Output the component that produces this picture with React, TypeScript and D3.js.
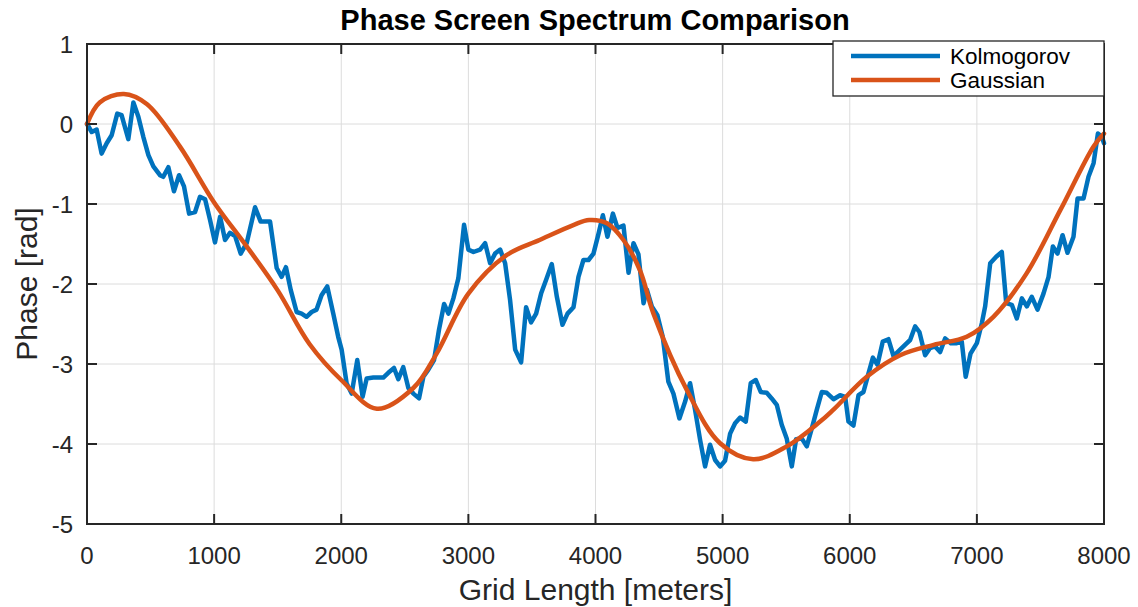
import React from "react";
import * as d3 from "d3";

const kolmogorovX = [0, 37, 76, 115, 155, 194, 238, 272, 325, 365, 404, 443, 483, 522, 574, 600, 640, 684, 724, 763, 803, 850, 889, 929, 968, 1007, 1047, 1086, 1125, 1165, 1209, 1256, 1322, 1366, 1440, 1492, 1531, 1565, 1602, 1649, 1688, 1727, 1767, 1806, 1845, 1890, 1937, 1976, 2003, 2042, 2082, 2126, 2168, 2200, 2252, 2331, 2370, 2415, 2449, 2488, 2528, 2567, 2612, 2646, 2685, 2730, 2769, 2809, 2843, 2882, 2921, 2966, 3000, 3040, 3092, 3132, 3171, 3210, 3250, 3289, 3328, 3368, 3415, 3454, 3493, 3533, 3572, 3611, 3656, 3696, 3740, 3780, 3827, 3866, 3905, 3945, 3984, 4024, 4058, 4094, 4137, 4173, 4220, 4260, 4299, 4338, 4378, 4404, 4443, 4487, 4529, 4573, 4613, 4660, 4705, 4744, 4783, 4823, 4862, 4901, 4941, 4980, 5019, 5059, 5098, 5138, 5182, 5221, 5261, 5300, 5347, 5386, 5426, 5465, 5504, 5544, 5578, 5622, 5662, 5709, 5741, 5780, 5819, 5872, 5924, 5964, 5990, 6029, 6069, 6108, 6147, 6182, 6218, 6260, 6304, 6344, 6396, 6435, 6475, 6514, 6548, 6593, 6632, 6672, 6711, 6750, 6795, 6842, 6881, 6912, 6950, 7000, 7039, 7065, 7105, 7152, 7196, 7231, 7275, 7314, 7354, 7393, 7432, 7477, 7524, 7564, 7598, 7634, 7674, 7713, 7760, 7792, 7839, 7878, 7918, 7952, 7983, 8000];
const kolmogorovY = [0, -0.1, -0.07, -0.37, -0.24, -0.14, 0.13, 0.11, -0.19, 0.27, 0.09, -0.16, -0.39, -0.53, -0.64, -0.66, -0.54, -0.84, -0.64, -0.78, -1.12, -1.1, -0.91, -0.94, -1.2, -1.48, -1.16, -1.45, -1.36, -1.4, -1.62, -1.49, -1.04, -1.22, -1.22, -1.8, -1.91, -1.79, -2.07, -2.35, -2.37, -2.41, -2.35, -2.32, -2.14, -2.03, -2.37, -2.66, -2.82, -3.24, -3.37, -2.95, -3.41, -3.18, -3.17, -3.17, -3.11, -3.05, -3.19, -3.04, -3.3, -3.37, -3.43, -3.16, -3.07, -2.95, -2.57, -2.25, -2.37, -2.18, -1.93, -1.26, -1.57, -1.6, -1.57, -1.49, -1.74, -1.62, -1.57, -1.74, -2.2, -2.82, -2.98, -2.29, -2.48, -2.37, -2.12, -1.95, -1.75, -2.16, -2.51, -2.37, -2.29, -1.91, -1.7, -1.7, -1.62, -1.37, -1.14, -1.41, -1.12, -1.3, -1.27, -1.86, -1.49, -1.63, -2.24, -2.07, -2.28, -2.39, -2.66, -3.22, -3.37, -3.68, -3.47, -3.24, -3.57, -3.95, -4.28, -4.01, -4.2, -4.28, -4.21, -3.87, -3.74, -3.67, -3.72, -3.24, -3.2, -3.35, -3.36, -3.43, -3.51, -3.76, -3.93, -4.28, -3.94, -3.93, -4.03, -3.76, -3.57, -3.35, -3.36, -3.44, -3.39, -3.41, -3.72, -3.77, -3.39, -3.35, -3.12, -2.92, -3.01, -2.72, -2.69, -2.9, -2.82, -2.76, -2.7, -2.53, -2.6, -2.89, -2.8, -2.78, -2.85, -2.68, -2.74, -2.74, -2.72, -3.16, -2.87, -2.74, -2.49, -2.28, -1.74, -1.66, -1.6, -2.24, -2.26, -2.43, -2.18, -2.28, -2.16, -2.32, -2.12, -1.91, -1.53, -1.62, -1.39, -1.61, -1.41, -0.93, -0.93, -0.66, -0.49, -0.12, -0.16, -0.24];

const gaussianX = [0, 100, 290, 470, 730, 1000, 1256, 1500, 1750, 2000, 2280, 2567, 2750, 3000, 3300, 3560, 3830, 3950, 4090, 4220, 4350, 4456, 4720, 4980, 5240, 5505, 5767, 5872, 6134, 6396, 6660, 6920, 7130, 7390, 7655, 7918, 8000];
const gaussianY = [0, 0.27, 0.375, 0.25, -0.28, -0.98, -1.53, -2.08, -2.75, -3.2, -3.56, -3.3, -2.87, -2.12, -1.64, -1.45, -1.26, -1.2, -1.24, -1.45, -1.83, -2.37, -3.33, -3.99, -4.19, -4.03, -3.72, -3.57, -3.16, -2.89, -2.76, -2.66, -2.41, -1.87, -1.08, -0.28, -0.12];

const xTicks = [0, 1000, 2000, 3000, 4000, 5000, 6000, 7000, 8000];
const yTicks = [1, 0, -1, -2, -3, -4, -5];
const seriesNames = ["Kolmogorov", "Gaussian"];
const seriesColors = ["#0072BD", "#D95319"];

const W = 1138;
const H = 607;
const M = { left: 87, right: 1104, top: 44, bottom: 524 };
const FONT = "'Liberation Sans', Arial, Helvetica, sans-serif";
const TXT = "#262626";

export default function App() {
  const x = d3.scaleLinear().domain([0, 8000]).range([M.left, M.right]);
  const y = d3.scaleLinear().domain([-5, 1]).range([M.bottom, M.top]);

  const kol = kolmogorovX.map((v, i) => [v, kolmogorovY[i]] as [number, number]);
  const gau = gaussianX.map((v, i) => [v, gaussianY[i]] as [number, number]);

  const lineK = d3.line<[number, number]>().x((d) => x(d[0])).y((d) => y(d[1]));
  const lineG = d3
    .line<[number, number]>()
    .x((d) => x(d[0]))
    .y((d) => y(d[1]))
    .curve(d3.curveCatmullRom.alpha(0.5));

  const tickLen = 10;
  const legX = 833;
  const legY = 41;
  const legW = M.right - legX;
  const legH = 55;
  const rowY = [legY + 15, legY + 39];

  return (
    <svg
      width={W}
      height={H}
      style={{ position: "absolute", left: 0, top: 0, background: "#fff" }}
      fontFamily={FONT}
    >
      <rect x={0} y={0} width={W} height={H} fill="#fff" />
      {/* grid */}
      <g stroke="#dcdcdc" strokeWidth={1}>
        {xTicks.slice(1, -1).map((t) => (
          <line key={"gx" + t} x1={x(t)} x2={x(t)} y1={M.top} y2={M.bottom} />
        ))}
        {yTicks.slice(1, -1).map((t) => (
          <line key={"gy" + t} x1={M.left} x2={M.right} y1={y(t)} y2={y(t)} />
        ))}
      </g>
      {/* lines */}
      <path d={lineK(kol) || ""} fill="none" stroke={seriesColors[0]} strokeWidth={4.5} strokeLinejoin="round" strokeLinecap="round" />
      <path d={lineG(gau) || ""} fill="none" stroke={seriesColors[1]} strokeWidth={4.5} strokeLinejoin="round" strokeLinecap="round" />
      {/* box */}
      <rect x={M.left} y={M.top} width={M.right - M.left} height={M.bottom - M.top} fill="none" stroke={TXT} strokeWidth={2} />
      {/* ticks */}
      <g stroke={TXT} strokeWidth={2}>
        {xTicks.map((t) => (
          <g key={"tx" + t}>
            <line x1={x(t)} x2={x(t)} y1={M.bottom} y2={M.bottom - tickLen} />
            <line x1={x(t)} x2={x(t)} y1={M.top} y2={M.top + tickLen} />
          </g>
        ))}
        {yTicks.map((t) => (
          <g key={"ty" + t}>
            <line x1={M.left} x2={M.left + tickLen} y1={y(t)} y2={y(t)} />
            <line x1={M.right} x2={M.right - tickLen} y1={y(t)} y2={y(t)} />
          </g>
        ))}
      </g>
      {/* tick labels */}
      <g fill={TXT} fontSize={24}>
        {xTicks.map((t) => (
          <text key={"lx" + t} x={x(t)} y={M.bottom + 40} textAnchor="middle">
            {String(t)}
          </text>
        ))}
        {yTicks.map((t) => (
          <text key={"ly" + t} x={M.left - 14} y={y(t) + 9} textAnchor="end">
            {t < 0 ? "-" + Math.abs(t) : String(t)}
          </text>
        ))}
      </g>
      {/* axis labels */}
      <text x={(M.left + M.right) / 2} y={600} textAnchor="middle" fontSize={30} fill={TXT}>
        Grid Length [meters]
      </text>
      <text
        transform={`translate(37, ${(M.top + M.bottom) / 2}) rotate(-90)`}
        textAnchor="middle"
        fontSize={30}
        fill={TXT}
      >
        Phase [rad]
      </text>
      {/* title */}
      <text x={595} y={30} textAnchor="middle" fontSize={29} fontWeight="bold" fill="#000">
        Phase Screen Spectrum Comparison
      </text>
      {/* legend */}
      <g>
        <rect x={legX} y={legY} width={legW} height={legH} fill="#fff" stroke={TXT} strokeWidth={1.3} />
        {seriesNames.map((name, i) => (
          <g key={name}>
            <line x1={851} x2={940} y1={rowY[i]} y2={rowY[i]} stroke={seriesColors[i]} strokeWidth={4.5} />
            <text x={950} y={rowY[i] + 8} fontSize={22.5} fill="#000">
              {name}
            </text>
          </g>
        ))}
      </g>
    </svg>
  );
}
